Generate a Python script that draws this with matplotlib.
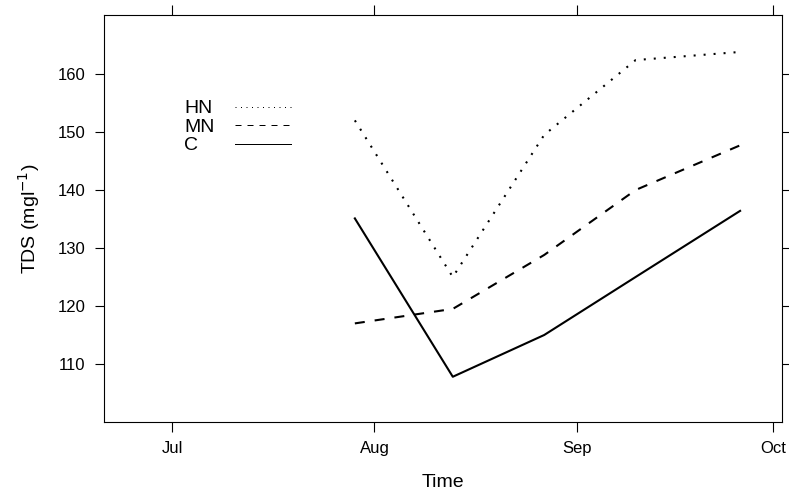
import matplotlib
matplotlib.use("Agg")
import matplotlib.pyplot as plt
from matplotlib.lines import Line2D
import datetime as dt

plt.rcParams['font.family'] = ['Liberation Sans', 'DejaVu Sans']

# ---- data ----
dates = [dt.datetime(2010, 7, 29), dt.datetime(2010, 8, 13), dt.datetime(2010, 8, 27),
         dt.datetime(2010, 9, 10), dt.datetime(2010, 9, 26)]
series_names = ["HN", "MN", "C"]
hn = [152.0, 125.0, 149.5, 162.4, 163.8]
mn = [117.0, 119.5, 128.8, 140.0, 147.7]
c = [135.1, 107.8, 115.0, 125.0, 136.4]
xtick_dates = [dt.datetime(2010, 7, 1), dt.datetime(2010, 8, 1),
               dt.datetime(2010, 9, 1), dt.datetime(2010, 10, 1)]
xtick_labels = ["Jul", "Aug", "Sep", "Oct"]
ytick_values = [110, 120, 130, 140, 150, 160]

W, H = 789, 493
fig = plt.figure(figsize=(W / 100, H / 100), dpi=100)
ax = fig.add_axes([104 / W, 1 - 422 / H, (782 - 104) / W, (422 - 15) / H])

main_styles = [(0, (0.96, 3.84)), (0, (4.8, 4.8)), '-']
legend_styles = [(0, (1.0, 4.5)), (0, (6.0, 6.0)), '-']
for vals, ls in zip([hn, mn, c], main_styles):
    ax.plot(dates, vals, color='black', lw=1.5, linestyle=ls)

ax.set_xlim(dt.datetime(2010, 6, 20, 14), dt.datetime(2010, 10, 2, 10))
ax.set_ylim(100.0, 170.17)
ax.set_xticks(xtick_dates)
ax.set_xticklabels(xtick_labels)
ax.set_yticks(ytick_values)
ax.set_yticklabels([str(v) for v in ytick_values])

for sp in ax.spines.values():
    sp.set_linewidth(0.8)
ax.tick_params(axis='x', which='both', direction='out', length=7, width=0.8,
               top=True, bottom=True, labeltop=False, labelsize=12, pad=6.5)
ax.tick_params(axis='y', which='both', direction='out', length=6.5, width=0.8,
               left=True, right=True, labelright=False, labelsize=12, pad=7)

ax.set_xlabel("Time", fontsize=14)
ax.set_ylabel("TDS (mgl$^{-1}$)", fontsize=14)
ax.xaxis.set_label_coords(0.5, -0.1288)
ax.yaxis.set_label_coords(-0.0914, 0.5)

# ---- key (legend), laid out like the lattice key ----
key_text_x = 184
key_line_x0, key_line_x1 = 235, 291
key_baselines = [113.3, 131.8, 150.3]
for name, ls, yb in zip(series_names, legend_styles, key_baselines):
    fig.text(key_text_x / W, 1 - yb / H, name, fontsize=14, ha='left', va='baseline')
    yl = 1 - (yb - 6.5) / H
    fig.add_artist(Line2D([key_line_x0 / W, key_line_x1 / W], [yl, yl],
                          transform=fig.transFigure, color='black', lw=0.72, linestyle=ls))

fig.savefig("out.png", dpi=100)
